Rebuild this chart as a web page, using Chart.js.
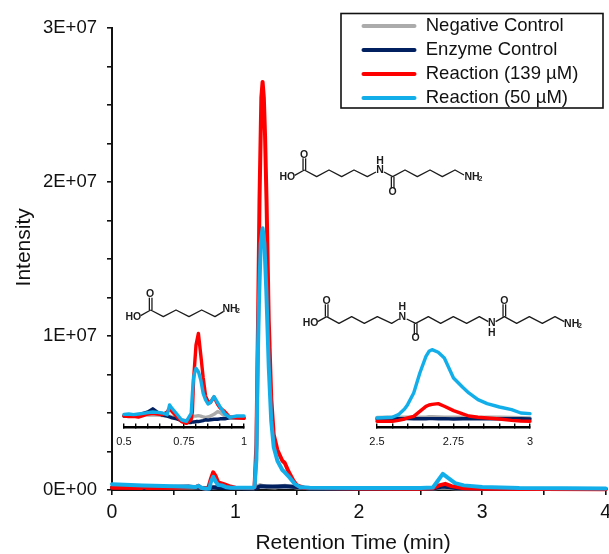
<!DOCTYPE html>
<html><head><meta charset="utf-8">
<style>
html,body{margin:0;padding:0;background:#fff;width:609px;height:554px;overflow:hidden}
canvas{position:absolute;display:block}
</style>
<script src="https://cdn.jsdelivr.net/npm/chart.js@4"></script>
</head><body>
<canvas id="main" width="609" height="554" style="left:0;top:0;width:609px;height:554px"></canvas>
<canvas id="inA" width="140" height="125" style="left:114px;top:325px;width:140px;height:125px"></canvas>
<canvas id="inB" width="173" height="125" style="left:367px;top:325px;width:173px;height:125px"></canvas>
<script>
// ---------- data (intensity in millions, retention time in minutes) ----------
const seriesNames = ['Negative Control','Enzyme Control','Reaction (139 µM)','Reaction (50 µM)'];
const seriesColors = ['#ABABAB','#002060','#FF0000','#12AEEA'];

const yTickLabels = {0:'0E+00',10:'1E+07',20:'2E+07',30:'3E+07'};
const xTickLabels = {0:'0',1:'1',2:'2',3:'3',4:'4'};
const inATickLabels = {0.5:'0.5',0.75:'0.75',1:'1'};
const inBTickLabels = {2.5:'2.5',2.75:'2.75',3:'3'};

const greyT = [0,0.5,0.7,0.78,0.82,0.88,0.95,1.15,1.2,1.25,1.32,1.4,1.5,1.6,2,2.6,2.68,2.8,3,4];
const greyV = [0.2,0.17,0.16,0.12,0.15,0.22,0.14,0.12,0.32,0.2,0.16,0.28,0.16,0.12,0.1,0.1,0.16,0.1,0.08,0.06];
const navyT = [0,0.3,0.62,0.78,0.82,0.9,1.1,1.17,1.2,1.3,1.4,1.5,1.6,2,2.6,2.68,2.8,3,4];
const navyV = [0.15,0.16,0.22,0.08,0.18,0.14,0.1,0.12,0.24,0.22,0.24,0.2,0.1,0.08,0.1,0.22,0.12,0.08,0.06];
const redT = [0,0.24,0.26,0.28,0.5,0.68,0.7,0.72,0.76,0.78,0.8,0.82,0.84,0.86,0.9,0.95,1,1.14,1.155,1.17,1.185,1.195,1.21,1.22,1.23,1.24,1.252,1.27,1.29,1.31,1.34,1.38,1.4,1.43,1.47,1.5,1.55,2,2.5,2.6,2.65,2.7,2.75,2.85,3,4];
const redV = [0.15,0.13,0.22,0.13,0.14,0.2,0.28,0.14,0.08,0.14,0.7,1.15,0.9,0.5,0.4,0.25,0.15,0.13,0.2,3,12,18.8,25.5,26.5,25.5,23,18.8,11,6,3.6,2.6,1.9,1.75,1.2,0.6,0.3,0.15,0.1,0.08,0.12,0.3,0.4,0.25,0.12,0.08,0.05];
const blueT = [0,0.25,0.5,0.68,0.7,0.72,0.76,0.79,0.8,0.82,0.84,0.86,0.89,0.92,0.96,1.14,1.155,1.17,1.18,1.19,1.205,1.22,1.235,1.25,1.27,1.29,1.31,1.34,1.38,1.4,1.44,1.48,1.52,1.6,2,2.5,2.6,2.64,2.68,2.72,2.78,2.85,3,3.3,4];
const blueV = [0.38,0.3,0.24,0.2,0.28,0.15,0.08,0.1,0.5,0.85,0.55,0.32,0.3,0.2,0.15,0.14,0.2,2,8,12,16,17,16,13,8,4.5,2.8,1.9,1.3,1.15,0.8,0.4,0.2,0.14,0.13,0.13,0.16,0.6,1.05,0.8,0.45,0.3,0.2,0.13,0.1];

const inAT = [.50,.52,.54,.56,.58,.60,.62,.64,.66,.68,.69,.70,.72,.74,.76,.78,.785,.79,.80,.81,.82,.83,.84,.85,.86,.875,.89,.90,.92,.94,.97,1];
const inAGrey = [.21,.215,.21,.215,.22,.21,.215,.21,.205,.20,.20,.19,.18,.16,.15,.17,.19,.20,.20,.205,.20,.19,.185,.19,.20,.22,.25,.24,.20,.19,.19,.19];
const inANavy = [.20,.205,.20,.21,.23,.245,.28,.24,.21,.20,.19,.18,.17,.15,.13,.13,.135,.135,.14,.14,.145,.15,.16,.155,.16,.165,.165,.17,.17,.18,.18,.18];
const inARed = [.201,.194,.197,.19,.205,.223,.23,.223,.216,.245,.285,.25,.194,.139,.12,.164,.25,.6,.98,1.11,.87,.62,.42,.36,.35,.41,.33,.29,.25,.19,.18,.175];
const inABlue = [.219,.223,.216,.223,.23,.238,.245,.241,.234,.216,.322,.285,.223,.157,.142,.23,.45,.634,.725,.689,.597,.45,.377,.333,.348,.414,.348,.304,.223,.186,.201,.201];

const inBT = [2.5,2.55,2.57,2.59,2.6,2.62,2.64,2.66,2.67,2.68,2.7,2.72,2.75,2.78,2.8,2.83,2.86,2.9,2.94,2.97,3];
const inBGrey = [.175,.178,.18,.178,.18,.18,.178,.18,.185,.185,.182,.18,.18,.178,.178,.175,.18,.178,.175,.172,.17];
const inBNavy = [.155,.16,.158,.16,.16,.158,.16,.158,.16,.16,.158,.16,.155,.158,.16,.158,.16,.158,.16,.158,.155];
const inBRed = [.125,.125,.138,.156,.169,.191,.257,.323,.34,.349,.358,.323,.266,.222,.195,.178,.169,.156,.138,.129,.125];
const inBBlue = [.169,.178,.213,.288,.345,.499,.763,.983,1.049,1.071,1.036,.961,.697,.574,.499,.411,.358,.314,.279,.235,.226];

// ---------- structure drawings (annotation, not data) ----------
const inkColor = '#1c1c1c';
const molecules = [
 {ox:120,oy:285,chains:[[[92,75],[130,95],[168,75],[207,95],[245,75],[285,95],[310,80]]],
  dbl:[[92,75,92,38]],
  labels:[['HO',40,97],['O',90,28],['NH',330,73],['2',354,79,1]],hoBond:[[92,75],[62,92]]},
 {ox:270,oy:140,chains:[[[103,90],[140,110],[177,90],[215,110],[252,90],[292,110],[318,96]],[[342,96],[368,110],[405,90],[442,110],[480,90],[517,110],[555,90],[582,105]]],
  dbl:[[103,90,103,55],[368,110,368,145]],
  labels:[['HO',52,110],['O',102,45],['N',330,90],['H',330,62],['O',368,155],['NH',606,112],['2',631,118,1]],hoBond:[[103,90],[74,106]]},
 {ox:295,oy:285,chains:[[[95,95],[132,115],[170,95],[208,115],[247,95],[290,115],[312,102]],[[335,102],[362,115],[400,95],[437,115],[475,95],[515,115],[553,95],[580,110]],[[602,110],[628,95],[665,115],[703,95],[742,115],[780,95],[808,110]]],
  dbl:[[95,95,95,58],[362,115,362,150],[628,95,628,58]],
  labels:[['HO',47,115],['O',95,48],['N',322,95],['H',322,67],['O',362,160],['N',590,115],['H',590,145],['O',628,48],['NH',830,117],['2',855,123,1]],hoBond:[[95,95],[68,110]]}
];

const FONT = "'Liberation Sans', Arial, sans-serif";
const INK = '#111';

function dataset(i,t,v,w){
  return {label:seriesNames[i],data:t.map((x,k)=>({x:x,y:v[k]})),borderColor:seriesColors[i],backgroundColor:seriesColors[i],order:3-i,
          borderWidth:w,pointRadius:0,tension:0,borderJoinStyle:'round',borderCapStyle:'round',clip:false};
}

const moleculePlugin = {id:'molecules',afterDraw(chart){
  const c=chart.ctx; c.save();
  c.strokeStyle=inkColor; c.fillStyle=inkColor; c.lineWidth=1.3; c.lineJoin='round';
  c.textAlign='center'; c.textBaseline='middle';
  for(const m of molecules){
    const X=v=>m.ox+v/3, Y=v=>m.oy+v/3;
    for(const ch of m.chains.concat([m.hoBond])){
      c.beginPath(); ch.forEach((p,i)=>i?c.lineTo(X(p[0]),Y(p[1])):c.moveTo(X(p[0]),Y(p[1]))); c.stroke();
    }
    for(const d of m.dbl){ for(const o of [-1.3,1.3]){ c.beginPath(); c.moveTo(X(d[0])+o,Y(d[1])); c.lineTo(X(d[2])+o,Y(d[3])); c.stroke(); } }
    for(const l of m.labels){
      c.font=(l[3]?'bold 7px ':'bold 10.5px ')+FONT;
      c.fillText(l[0],X(l[1]),Y(l[2]));
    }
  }
  c.restore();
}};

const legendPlugin = {id:'legendPlace',
  afterLayout(chart){
    const l=chart.legend; l.left=356; l.right=600; l.top=11.25; l.bottom=140; l.width=244; l.height=128.75;
  },
  afterDraw(chart){
    const c=chart.ctx; c.save(); c.strokeStyle='#111'; c.lineWidth=1.6; c.strokeRect(341,13.5,262,94.5); c.restore();
  }
};

new Chart(document.getElementById('main'),{
  type:'line',
  data:{datasets:[dataset(0,greyT,greyV,4),dataset(1,navyT,navyV,4),dataset(2,redT,redV,4),dataset(3,blueT,blueV,4)]},
  plugins:[legendPlugin,moleculePlugin],
  options:{
    responsive:false,animation:false,devicePixelRatio:1,
    layout:{padding:{left:0,top:28,right:3.3,bottom:0}},
    plugins:{tooltip:{enabled:false},title:{display:false},
      legend:{display:true,position:'chartArea',align:'start',
        labels:{color:INK,font:{family:FONT,size:18.5},boxWidth:55,boxHeight:4,padding:5.5,
          generateLabels:()=>seriesNames.map((n,i)=>({text:n,fillStyle:seriesColors[i],strokeStyle:seriesColors[i],lineWidth:0,fontColor:INK,hidden:false,datasetIndex:i,borderRadius:2})),
          useBorderRadius:true,borderRadius:2}}},
    scales:{
      x:{type:'linear',min:0,max:4,
        afterFit(s){s.height=554-490;s.paddingLeft=0;s.paddingRight=0;},
        border:{color:INK,width:2},
        grid:{drawOnChartArea:false,color:INK,lineWidth:1.6,tickLength:5},
        ticks:{stepSize:0.5,autoSkip:false,maxRotation:0,color:INK,padding:6,font:{family:FONT,size:19.5},callback:v=>xTickLabels[v]??''},
        title:{display:true,text:'Retention Time (min)  ',color:INK,font:{family:FONT,size:21},padding:{top:0,bottom:-2}}},
      y:{type:'linear',min:0,max:30,
        afterFit(s){s.width=112;s.paddingTop=0;s.paddingBottom=0;},
        border:{color:INK,width:2},
        grid:{drawOnChartArea:false,color:INK,lineWidth:1.6,tickLength:5},
        ticks:{stepSize:2.5,autoSkip:false,color:INK,padding:10,font:{family:FONT,size:18.5},callback:v=>yTickLabels[v]??''},
        title:{display:true,text:'    Intensity',color:INK,font:{family:FONT,size:21},padding:{top:12,bottom:0}}}
    }
  }
});

function inset(id,t,g,n,r,b,xMin,xMax,yMin,yMax,labels){
  new Chart(document.getElementById(id),{
    type:'line',
    data:{datasets:[dataset(0,t,g,3.4),dataset(1,t,n,3.4),dataset(2,t,r,3.4),dataset(3,t,b,3.4)]},
    options:{
      responsive:false,animation:false,devicePixelRatio:1,
      layout:{padding:{left:10,top:0,right:10,bottom:0}},
      plugins:{legend:{display:false},tooltip:{enabled:false}},
      scales:{
        x:{type:'linear',min:xMin,max:xMax,
          afterFit(s){s.height=23;s.paddingLeft=0;s.paddingRight=0;},
          border:{color:'#000',width:2.4},
          grid:{drawOnChartArea:false,color:'#000',lineWidth:1.4,tickLength:-3.5},
          ticks:{stepSize:0.05,autoSkip:false,maxRotation:0,color:INK,padding:12,font:{family:FONT,size:11},
            callback:v=>labels[Math.round(v*100)/100]??''}},
        y:{type:'linear',display:false,min:yMin,max:yMax}
      }
    }
  });
}
inset('inA',inAT,inAGrey,inANavy,inARed,inABlue,0.5,1,0.08,1.202,inATickLabels);
inset('inB',inBT,inBGrey,inBNavy,inBRed,inBBlue,2.5,3,0.05,1.396,inBTickLabels);
</script>
</body></html>
